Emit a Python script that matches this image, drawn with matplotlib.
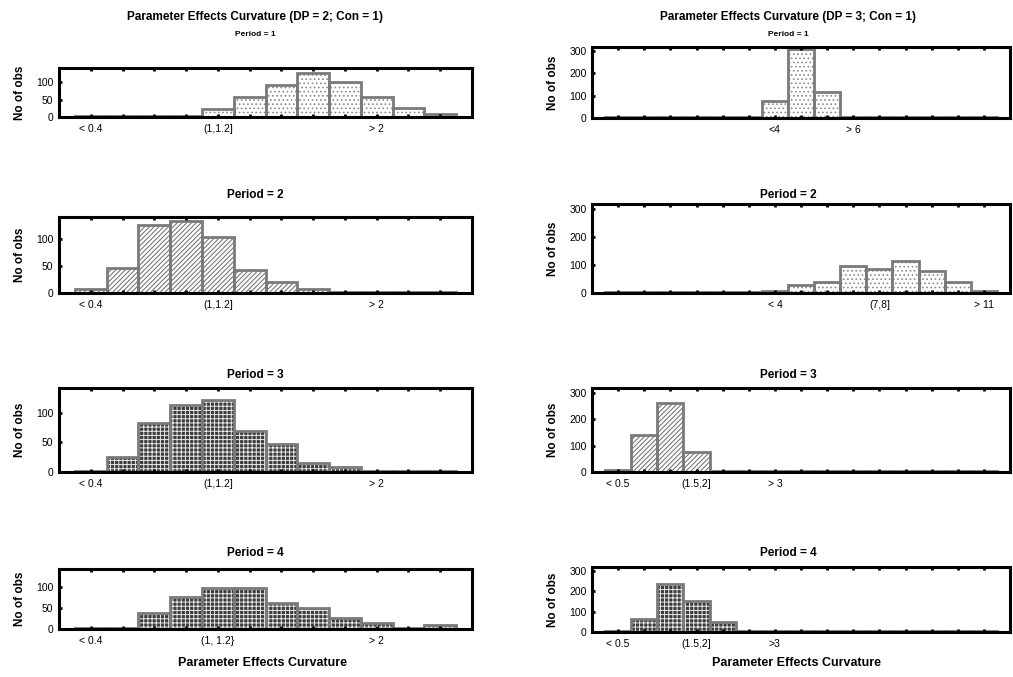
import numpy as np
import matplotlib.pyplot as plt

# left column: DP = 2, 12 classes; right column: DP = 3, 15 classes
left_counts = [
    [2, 2, 2, 2, 22, 57, 93, 128, 100, 57, 27, 10],
    [8, 47, 127, 135, 105, 43, 20, 8, 2, 2, 2, 2],
    [2, 25, 82, 113, 122, 70, 47, 15, 8, 2, 2, 2],
    [3, 3, 38, 75, 98, 98, 62, 50, 25, 15, 2, 10],
]
right_counts = [
    [3, 3, 3, 3, 3, 3, 75, 310, 115, 3, 3, 3, 3, 3, 3],
    [4, 4, 4, 4, 4, 4, 6, 28, 40, 95, 85, 115, 78, 40, 8],
    [6, 140, 262, 75, 4, 4, 4, 4, 4, 4, 4, 4, 4, 4, 4],
    [5, 62, 235, 150, 50, 5, 5, 5, 5, 5, 5, 5, 5, 5, 5],
]
left_labels = [
    {1: "< 0.4", 5: "(1,1.2]", 10: "> 2"},
    {1: "< 0.4", 5: "(1,1.2]", 10: "> 2"},
    {1: "< 0.4", 5: "(1,1.2]", 10: "> 2"},
    {1: "< 0.4", 5: "(1, 1.2}", 10: "> 2"},
]
right_labels = [
    {7: "<4", 10: "> 6"},
    {7: "< 4", 11: "(7,8]", 15: "> 11"},
    {1: "< 0.5", 4: "(1.5,2]", 7: "> 3"},
    {1: "< 0.5", 4: "(1.5,2]", 7: ">3"},
]
periods = ["Period = 1", "Period = 2", "Period = 3", "Period = 4"]
left_yticks = [0, 50, 100]
right_yticks = [0, 100, 200, 300]

# fill styles: (face, hatch colour, hatch)
light_dots = ("white", "#8a8a8a", "....")
diag = ("white", "#6a6a6a", "///////")
dark_dots = ("#3c3c3c", "#e8e8e8", "++++")
left_styles = [light_dots, diag, dark_dots, dark_dots]
right_styles = [light_dots, light_dots, diag, dark_dots]

W, H = 1013, 677
narrow = ["Liberation Sans Narrow", "Liberation Sans", "DejaVu Sans"]
bold = ["Liberation Sans", "DejaVu Sans"]
plt.rcParams["hatch.linewidth"] = 0.7

fig = plt.figure(figsize=(W / 100, H / 100), dpi=100)


def box(l, t, r, b):
    return [l / W, 1 - b / H, (r - l) / W, (b - t) / H]


def panel(rect, counts, labels, style, yticks, ymax):
    ax = fig.add_axes(rect)
    x = np.arange(1, len(counts) + 1)
    face, hcol, hatch = style
    ax.bar(x, counts, width=1, color=face, edgecolor=hcol, hatch=hatch, linewidth=0)
    ax.bar(x, counts, width=1, fill=False, edgecolor="#7a7a7a", linewidth=2)
    ax.set_xlim(0, len(counts) + 1)
    ax.set_ylim(0, ymax)
    ax.set_xticks(x, minor=True)
    ax.set_xticks(list(labels.keys()))
    ax.set_xticklabels(list(labels.values()), fontsize=7.5, family=narrow)
    ax.set_yticks(yticks)
    ax.set_yticklabels([str(v) for v in yticks], fontsize=7.5, family=narrow)
    ax.tick_params(axis="x", which="both", direction="in", top=True,
                   length=2, width=2, pad=5)
    ax.tick_params(axis="y", direction="in", length=2, width=2, pad=4)
    for s in ax.spines.values():
        s.set_linewidth(2.2)
    ax.spines["right"].set_linestyle((0, (1, 1)))
    ax.set_ylabel("No of obs", fontsize=8.5, fontweight="bold", family=bold,
                  labelpad=7)
    return ax


left_rows = [(68, 117), (217, 293), (388, 472), (569, 629)]
right_rows = [(47, 118), (204, 293), (388, 472), (567, 632)]
title_y = [35, 195, 375, 553]

for i in range(4):
    t, b = left_rows[i]
    ax = panel(box(59, t, 472, b), left_counts[i], left_labels[i],
               left_styles[i], left_yticks, 142)
    t, b = right_rows[i]
    ax2 = panel(box(592, t, 1010, b), right_counts[i], right_labels[i],
                right_styles[i], right_yticks, 318)
    if i == 0:
        fig.text(255 / W, 1 - 35 / H, periods[0], ha="center", va="center",
                 fontsize=6, fontweight="bold", family=narrow)
        fig.text(788 / W, 1 - 35 / H, periods[0], ha="center", va="center",
                 fontsize=6, fontweight="bold", family=narrow)
    else:
        fig.text(255 / W, 1 - title_y[i] / H, periods[i], ha="center",
                 va="center", fontsize=8.5, fontweight="bold", family=bold)
        fig.text(788 / W, 1 - title_y[i] / H, periods[i], ha="center",
                 va="center", fontsize=8.5, fontweight="bold", family=bold)

fig.text(255 / W, 1 - 17 / H, "Parameter Effects Curvature (DP = 2; Con = 1)",
         ha="center", va="center", fontsize=8.5, fontweight="bold", family=bold)
fig.text(788 / W, 1 - 17 / H, "Parameter Effects Curvature (DP = 3; Con = 1)",
         ha="center", va="center", fontsize=8.5, fontweight="bold", family=bold)
fig.text(262 / W, 1 - 663 / H, "Parameter Effects Curvature", ha="center",
         va="center", fontsize=9, fontweight="bold", family=bold)
fig.text(797 / W, 1 - 663 / H, "Parameter Effects Curvature", ha="center",
         va="center", fontsize=9, fontweight="bold", family=bold)

fig.savefig("out.png", dpi=100)
